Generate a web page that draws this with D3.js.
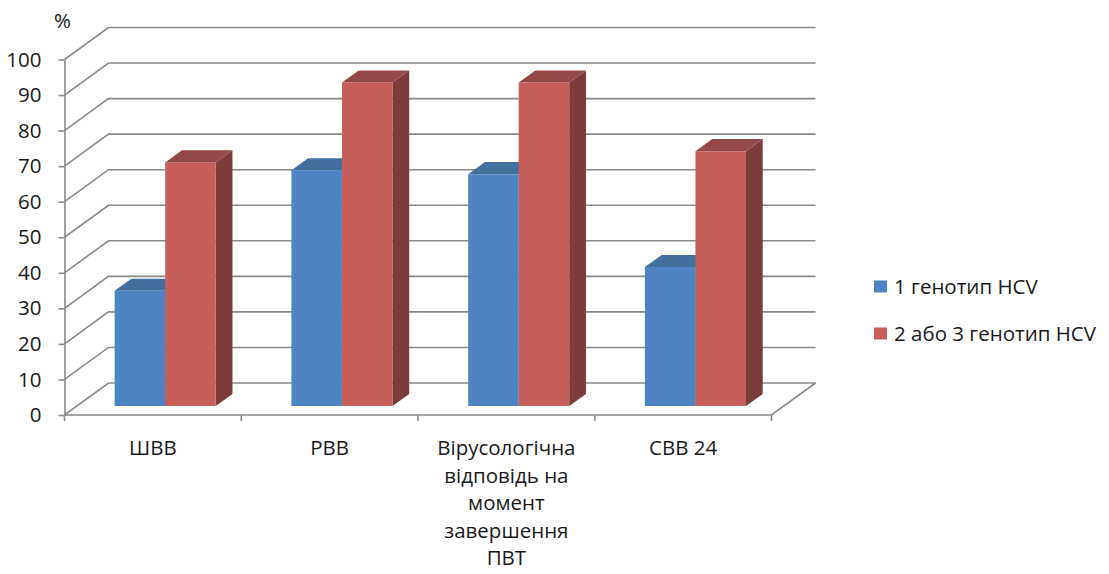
<!DOCTYPE html>
<html>
<head>
<meta charset="utf-8">
<script src="https://cdn.jsdelivr.net/npm/d3@7"></script>
<style>
  html, body { margin: 0; padding: 0; background: #fff; }
  svg { display: block; font-family: "Open Sans", "Noto Sans", sans-serif; }
</style>
</head>
<body>
<svg id="chart" width="1109" height="574"></svg>
<script>
// ---- data ----
const categories = ["ШВВ", "РВВ", "Вірусологічна відповідь на момент завершення ПВТ", "СВВ 24"];
const categoryLines = [["ШВВ"], ["РВВ"], ["Вірусологічна", "відповідь на", "момент", "завершення", "ПВТ"], ["СВВ 24"]];
const seriesNames = ["1 генотип HCV", "2 або 3 генотип HCV"];
const genotype1 = [32.4, 66.3, 65.2, 39.1];
const genotype23 = [68.5, 91.0, 91.0, 71.7];
const yTicks = [0, 10, 20, 30, 40, 50, 60, 70, 80, 90, 100];
const yUnit = "%";

// ---- layout ----
const svg = d3.select("#chart");
const X0 = 64.5, X1 = 771.5;
const DX = 44, DY = -32;          // depth offset of the back wall
const F0 = 0.28, F1 = 0.66;       // bar depth (fraction of floor depth)
const gridColor = "#8a8a8a";
const textColor = "#1a1a1a";
const FS = 20.5;

const x = d3.scaleBand().domain(categories).range([X0, X1]).paddingInner(0).paddingOuter(0);
const y = d3.scaleLinear().domain([0, 100]).range([415, 59.5]);
const pairW = x.bandwidth() * 0.572;
const xs = d3.scaleBand().domain(seriesNames).range([-pairW / 2, pairW / 2]);
const colors = {
  front: ["#4f84c4", "#c65f5c"],
  top:   ["#43709f", "#944848"],
  side:  ["#3a5f88", "#7d3b3b"]
};

function P(xf, v, f) { return [xf + f * DX, y(v) + f * DY]; }

// ---- walls & grid ----
const grid = svg.append("g").attr("fill", "none").attr("stroke", gridColor).attr("stroke-width", 1.6);
yTicks.forEach(v => {
  const a = P(X0, v, 0), b = P(X0, v, 1), c = P(X1, v, 1);
  grid.append("path").attr("d", d3.line()([a, b, c]));
});
// floor front and right edge
grid.append("path").attr("d", d3.line()([P(X0, 0, 0), P(X1, 0, 0), P(X1, 0, 1)]));

// y axis
const yAxis = d3.axisLeft(y).tickValues(yTicks).tickSize(6).tickSizeOuter(0).tickPadding(17);
const gy = svg.append("g").attr("transform", `translate(${X0},0)`).call(yAxis);
gy.selectAll("path, line").attr("stroke", gridColor).attr("stroke-width", 1.6);
gy.selectAll("text").attr("font-size", FS).attr("fill", textColor).attr("font-family", "Open Sans, Noto Sans, sans-serif");

svg.append("text").attr("x", 54).attr("y", 28).attr("font-size", FS).attr("fill", textColor).text(yUnit);

// category ticks
const catBounds = categories.map(c => x(c)).concat([X1]);
svg.append("g").selectAll("line").data(catBounds).join("line")
  .attr("x1", d => d).attr("x2", d => d)
  .attr("y1", y(0)).attr("y2", y(0) + 6)
  .attr("stroke", gridColor).attr("stroke-width", 1.6);

// category labels
const gl = svg.append("g").attr("font-size", FS).attr("fill", textColor).attr("text-anchor", "middle");
categories.forEach((c, i) => {
  const t = gl.append("text").attr("x", x(c) + x.bandwidth() / 2).attr("y", 455);
  categoryLines[i].forEach((ln, j) => {
    t.append("tspan").attr("x", x(c) + x.bandwidth() / 2).attr("y", 455 + j * 27.5).text(ln);
  });
});

// ---- bars ----
const seriesData = [genotype1, genotype23];
const bars = svg.append("g");
categories.forEach((c, ci) => {
  seriesNames.forEach((s, si) => {
    const v = seriesData[si][ci];
    const xl = x(c) + x.bandwidth() / 2 + xs(s);
    const xr = xl + xs.bandwidth();
    const line = d3.line();
    bars.append("path").attr("fill", colors.side[si])
      .attr("d", line([P(xr, v, F0), P(xr, 0, F0), P(xr, 0, F1), P(xr, v, F1)]) + "Z");
    bars.append("path").attr("fill", colors.top[si])
      .attr("d", line([P(xl, v, F0), P(xr, v, F0), P(xr, v, F1), P(xl, v, F1)]) + "Z");
    bars.append("path").attr("fill", colors.front[si])
      .attr("d", line([P(xl, v, F0), P(xr, v, F0), P(xr, 0, F0), P(xl, 0, F0)]) + "Z");
  });
});

// ---- legend ----
const lg = svg.append("g");
seriesNames.forEach((s, i) => {
  const cy = 286.5 + i * 47;
  lg.append("rect").attr("x", 874).attr("y", cy - 6).attr("width", 13).attr("height", 12).attr("fill", colors.front[i]);
  lg.append("text").attr("x", 894).attr("y", cy + 7).attr("font-size", FS).attr("fill", textColor).text(s);
});
</script>
</body>
</html>
